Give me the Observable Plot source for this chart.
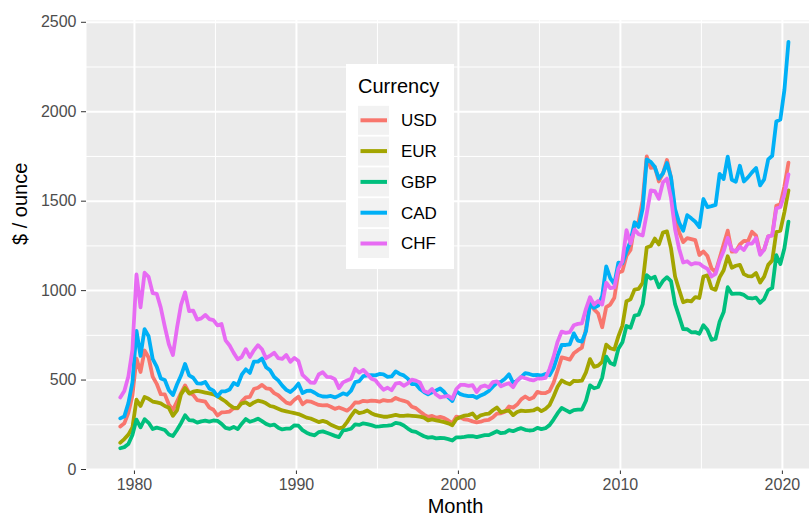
<!DOCTYPE html>
<html><head><meta charset="utf-8">
<script src="https://cdn.jsdelivr.net/npm/d3@7"></script>
<script src="https://cdn.jsdelivr.net/npm/@observablehq/plot@0.6"></script>
<style>
body{margin:0;background:#fff;overflow:hidden;}
#chart svg [aria-label^="x-axis"] text, #chart svg [aria-label^="y-axis"] text {fill:#4d4d4d;}
</style></head><body><div id="chart"></div>
<script>
const currencies = ["USD","EUR","GBP","CAD","CHF"];
const colors = ["#F8766D","#A3A500","#00BF7D","#00B0F6","#E76BF3"];
const xTicks = [1980,1990,2000,2010,2020];
const xMinor = [1985,1995,2005,2015];
const yTicks = [0,500,1000,1500,2000,2500];
const yMinor = [250,750,1250,1750,2250];
const firstYear = 1979; // quarterly values, 1979 Q1 .. 2020 Q2

const usd = [240,258,317,413, 620,545,665,626, 519,479,421,420, 363,333,380,427, 470,428,417,388,
 384,379,346,334, 302,319,321,324, 343,342,381,403, 406,450,457,473, 454,451,427,415,
 394,374,367,390, 407,365,382,380, 370,361,358,360, 351,339,347,338, 329,347,375,374,
 384,381,385,384, 379,388,384,385, 400,390,384,376, 351,343,324,307, 294,300,289,294,
 287,274,259,296, 290,280,277,269, 264,267,275,278, 291,312,314,323, 352,346,363,392,
 408,393,402,434, 427,427,439,485, 554,627,621,614, 650,667,681,788, 926,895,872,795,
 908,922,960,1101, 1109,1195,1227,1368, 1384,1504,1750,1686, 1691,1610,1655,1730, 1632,1414,1327,1271,
 1293,1288,1282,1199, 1219,1193,1124,1104, 1181,1259,1335,1218, 1219,1258,1278,1276, 1329,1307,1212,1229,
 1304,1309,1474,1482, 1583,1715];
const eur = [150,170,195,235, 390,355,405,395, 380,375,370,355, 345,300,330,420, 455,425,435,440,
 435,430,425,420, 410,395,380,360, 345,345,370,375, 360,375,385,380, 370,355,350,340,
 330,325,320,315, 310,300,290,285, 275,265,272,265, 250,240,230,235, 265,300,330,315,
 320,330,315,305, 300,295,295,300, 305,300,300,302, 300,298,295,290, 275,280,275,270,
 265,258,247,282, 293,301,304,313, 287,303,309,312, 331,347,320,326, 329,304,321,329,
 326,328,330,342, 326,339,360,408, 462,498,485,476, 496,494,497,543, 617,574,581,602,
 698,678,671,744, 804,941,951,1006, 1010,1044,1241,1249, 1291,1258,1324,1331, 1236,1079,1005,935,
 944,940,964,959, 1079,1085,1013,1004, 1074,1114,1192,1128, 1139,1144,1092,1081, 1080,1098,1045,1078,
 1144,1169,1328,1335, 1439,1560];
const gbp = [119,125,142,193, 279,236,281,261, 226,234,228,221, 196,187,221,259, 303,276,274,262,
 269,273,268,274, 272,255,233,227, 238,226,256,282, 267,274,284,270, 255,246,251,234,
 224,228,229,247, 245,220,206,196, 191,209,213,205, 197,188,181,218, 222,228,252,249,
 258,254,248,240, 241,244,245,248, 261,257,246,229, 215,210,198,186, 178,181,174,176,
 175,170,162,180, 180,182,187,186, 181,187,192,192, 203,214,203,206, 220,214,224,231,
 222,218,220,233, 226,231,248,279, 315,344,332,320, 332,335,335,384, 470,454,461,513,
 631,595,585,675, 711,802,792,860, 865,923,1087,1067, 1077,1019,1054,1075, 1053,924,856,785,
 784,767,768,759, 807,780,725,731, 826,880,1019,982, 983,983,976,959, 956,961,932,953,
 1003,1015,1198,1149, 1237,1385];
const cad = [286,297,371,487, 775,635,785,745, 618,575,509,500, 443,416,475,525, 590,526,513,481,
 480,489,453,441, 408,437,437,447, 484,472,530,560, 540,603,603,620, 572,555,517,498,
 469,445,433,452, 480,427,439,441, 429,415,408,407, 411,403,413,426, 418,441,488,494,
 522,526,527,526, 534,532,518,520, 548,534,526,508, 477,477,450,433, 420,432,442,453,
 433,403,383,438, 421,414,410,412, 401,414,424,439, 463,484,490,507, 532,484,497,517,
 539,534,527,529, 525,534,527,567, 637,696,696,700, 761,720,715,772, 926,904,916,970,
 1135,1070,1037,1156, 1153,1219,1276,1382, 1356,1459,1733,1720, 1691,1626,1655,1713, 1632,1456,1380,1335,
 1422,1404,1385,1355, 1512,1467,1472,1479, 1653,1624,1749,1620, 1609,1698,1610,1633, 1661,1686,1588,1622,
 1734,1754,1946,1956, 2121,2390];
const chf = [403,439,520,669, 1090,907,1100,1077, 986,982,905,798, 700,640,790,920, 990,886,888,838,
 845,864,841,835, 806,813,722,693, 652,616,629,673, 629,666,695,672, 622,636,653,623,
 619,640,602,624, 606,529,508,486, 485,531,544,518, 516,505,455,487, 497,507,563,542,
 557,533,508,499, 470,446,457,443, 480,484,468,481, 502,497,486,439, 429,450,419,403,
 408,411,396,450, 473,473,468,471, 433,462,470,459, 489,493,465,475, 482,460,497,517,
 510,503,498,508, 508,512,562,631, 715,771,764,768, 806,814,817,898, 963,922,942,922,
 1044,1014,1018,1123, 1164,1338,1264,1341, 1315,1308,1430,1560, 1556,1513,1605,1626, 1518,1343,1234,1157,
 1164,1146,1154,1151, 1134,1121,1079,1093, 1169,1221,1295,1230, 1219,1245,1227,1263, 1263,1294,1200,1229,
 1304,1309,1459,1467, 1536,1650];

const series = {USD: usd, EUR: eur, GBP: gbp, CAD: cad, CHF: chf};
const data = currencies.flatMap(c => series[c].map((v, i) => ({currency: c, month: firstYear + i / 4 + 0.125, value: v})));

const font = "'Liberation Sans', Arial, sans-serif";
const plot = Plot.plot({
  width: 809, height: 515,
  marginLeft: 86, marginRight: -15, marginTop: 20, marginBottom: 46,
  style: {fontFamily: font, fontSize: "16px", color: "#333333", background: "white", overflow: "hidden"},
  x: {domain: [1977.04, 2022.6], ticks: xTicks, tickFormat: d => String(d), tickSize: 5, tickPadding: 4, label: null},
  y: {domain: [0, 2510], ticks: yTicks, tickFormat: d => String(d), tickSize: 5, tickPadding: 5, label: null},
  color: {domain: currencies, range: colors},
  marks: [
    Plot.frame({fill: "#EBEBEB", stroke: "none"}),
    Plot.ruleY(yMinor, {stroke: "white", strokeWidth: 1}),
    Plot.ruleX(xMinor, {stroke: "white", strokeWidth: 1}),
    Plot.ruleY(yTicks, {stroke: "white", strokeWidth: 2}),
    Plot.ruleX(xTicks, {stroke: "white", strokeWidth: 2}),
    Plot.line(data, {x: "month", y: "value", z: "currency", stroke: "currency", strokeWidth: 3.8, strokeLinejoin: "round", strokeLinecap: "round"}),
    Plot.text(["Month"], {frameAnchor: "bottom", dy: 43, text: d => d, fontSize: 20, fill: "black"}),
    Plot.text(["$ / ounce"], {frameAnchor: "left", dx: -66, rotate: -90, text: d => d, fontSize: 20, fill: "black"})
  ]
});
document.getElementById("chart").appendChild(plot);

// legend (ggplot-style, inside panel)
const color = plot.scale("color");
const g = d3.select(plot).append("g").attr("font-family", font).attr("text-anchor", "start");
g.append("rect").attr("x", 346).attr("y", 64).attr("width", 108).attr("height", 205).attr("fill", "white");
g.append("text").attr("x", 358).attr("y", 93).attr("font-size", 20).attr("fill", "black").text("Currency");
currencies.forEach((c, i) => {
  const cy = 120.3 + i * 30.8;
  g.append("rect").attr("x", 358).attr("y", cy - 14.5).attr("width", 31).attr("height", 29).attr("fill", "#F2F2F2");
  g.append("line").attr("x1", 360.5).attr("x2", 387).attr("y1", cy).attr("y2", cy)
    .attr("stroke", color.apply(c)).attr("stroke-width", 4);
  g.append("text").attr("x", 401).attr("y", cy).attr("dy", "0.35em").attr("font-size", 17).attr("fill", "black").text(c);
});
</script></body></html>
